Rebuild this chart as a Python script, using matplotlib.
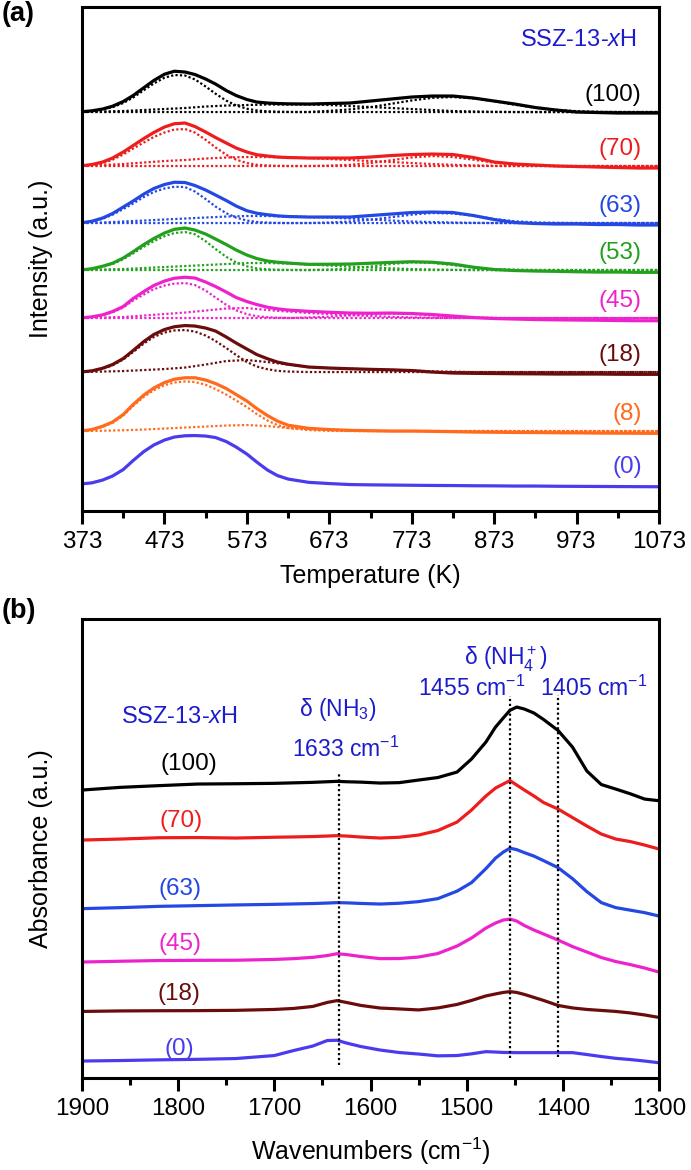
import numpy as np
import matplotlib
matplotlib.use("Agg")
import matplotlib.pyplot as plt
from matplotlib.ticker import MultipleLocator

plt.rcParams['font.family'] = ['Liberation Sans', 'DejaVu Sans']
plt.rcParams['mathtext.fontset'] = 'custom'
plt.rcParams['mathtext.rm'] = 'Liberation Sans'
plt.rcParams['mathtext.it'] = 'Liberation Sans:italic'
plt.rcParams['mathtext.bf'] = 'Liberation Sans:bold'
plt.rcParams['mathtext.default'] = 'regular'

# ---------------- (a) NH3-TPD ----------------
# fine temperature grid (measured curves + low-T peak), coarse grid (broad fitted peaks)
tpd_T = [373, 385, 398, 410, 423, 435, 448, 460, 473, 485, 498, 510, 523, 535, 548, 560, 573,
         585, 598, 610, 623, 648, 673, 698, 723, 748, 773, 798, 823, 848, 873, 898, 923, 948,
         973, 998, 1023, 1048, 1073]
fit_T = [373, 398, 423, 448, 473, 498, 523, 548, 573, 598, 623, 648, 673, 698, 723,
         748, 773, 798, 823, 848, 873, 898, 923, 948, 973, 998, 1023, 1048, 1073]

samples = ['(100)', '(70)', '(63)', '(53)', '(45)', '(18)', '(8)', '(0)']
tpd_offset = [399, 345, 288, 241, 193, 139, 80, 27]

tpd_100 = [0.3, 1.2, 3, 5.8, 10.5, 16.5, 24.3, 31.5, 37.8, 40.8, 40, 37.5, 33, 28, 21.5, 16.5,
           12.5, 10, 9, 8.5, 8.2, 8, 8.5, 9, 11, 13, 15, 16, 16, 14, 11, 8, 4.5, 2, 0, -0.5,
           -1, -1, -1]
tpd_70 = [0.3, 1.5, 4, 8, 14, 20.5, 27.5, 33.5, 39, 42.3, 43, 39.5, 34, 28.5, 23, 18, 14,
          11.3, 10, 9, 8.5, 8, 8, 8, 9, 10.5, 11.5, 12, 11.5, 8.5, 4, 2, 1, 0, -0.5, -1, -1.5,
          -2, -2]
tpd_63 = [0.3, 1.8, 5, 9.5, 16, 22, 29, 34.5, 38.5, 40.8, 40.5, 37.5, 33, 28, 22.5, 17, 12.3,
          9.8, 8.3, 7.2, 6.5, 6, 6, 6, 7.5, 9, 10.5, 11, 10.5, 7.5, 3.5, 0.5, -0.5, -1, -1,
          -1.5, -1.5, -2, -2]
tpd_53 = [0.2, 1.3, 3.8, 6.8, 12, 18.3, 25.5, 31.5, 37, 40.7, 42, 40, 36, 31, 25.5, 20, 15,
          11.5, 9, 7.8, 7, 5.7, 5.8, 6, 6.8, 7.6, 8.3, 7.8, 6, 2.8, 0.5, -0.5, -1, -1.3, -1.7,
          -2, -2, -2.3, -2.3]
tpd_45 = [0.2, 1.2, 3.2, 6.5, 11.5, 19.5, 26.5, 32.5, 37, 39.8, 40.8, 40, 36, 31.5, 26, 20.5,
          16.5, 13.5, 10.8, 9.2, 8, 6.7, 5.8, 5, 4.8, 5, 4.5, 3.5, 2, 0.5, -0.5, -1, -1.5,
          -1.8, -2, -2.2, -2.5, -2.7, -2.7]
tpd_18 = [0.2, 1.2, 3.8, 7.5, 13.5, 21.5, 30.5, 37.5, 42.5, 45.3, 46.5, 46, 44, 41, 35, 29,
          23, 17.5, 13.3, 10, 7.8, 5, 4, 3.3, 2.7, 2.2, 1.5, 0, -1, -1.3, -1.5, -1.7, -1.8,
          -2, -2, -2, -2.2, -2.3, -2.3]
tpd_8 = [0.2, 1.5, 4.8, 9, 16.5, 26.5, 36, 43, 48.5, 51.8, 53.3, 53.3, 51, 47.5, 42.5, 36.5,
         30, 22.5, 15.5, 10, 5.8, 2.7, 1.5, 0.7, 0.3, 0, 0, -0.3, -0.6, -1, -1.2, -1.4, -1.5,
         -1.7, -1.8, -2, -2.1, -2.2, -2.3]
tpd_0 = [0.2, 1.2, 4, 8, 14.5, 23.5, 32.5, 39, 44, 47, 48.3, 48.5, 48, 46.5, 42.5, 37, 30,
         22, 14, 8.5, 5, 1.7, 0.5, -0.5, -0.8, -1, -1.2, -1.4, -1.5, -1.7, -1.8, -2, -2,
         -2.2, -2.3, -2.4, -2.5, -2.6, -2.7]

# deconvoluted peaks: low-T peak on tpd_T, medium / high-T peaks on fit_T
low_100 = [0.2, 0.8, 2.4, 4.8, 9, 14.5, 21.8, 28.5, 34.3, 37, 36.5, 32.6, 25.5, 18.3, 11.4,
           6.6, 3.3, 1.6, 0.7, 0.3, 0.1] + [0] * 18
mid_100 = [0, 0.5, 1, 2, 3, 4, 5.5, 6.5, 7, 7.5, 7.5, 7.5, 7, 6, 5, 4, 3, 2, 1, 0.5, 0.2] + [0] * 8
high_100 = [0] * 12 + [1.2, 2.6, 4.9, 8.2, 11.6, 14.2, 15, 13.7, 10.8, 7.3, 4.3, 2.2, 0.9, 0.3, 0, 0, 0]

low_70 = [0.2, 0.8, 2.8, 6.3, 11.5, 17.5, 23.5, 29, 33.5, 36.5, 37, 33.5, 26.2, 18.6, 11.3,
          6.4, 3, 1.3, 0.5, 0.2, 0] + [0] * 18
mid_70 = [0.5, 1, 2, 3.5, 5, 6, 7.5, 8.5, 9, 9, 8.5, 8, 7, 6, 5, 4, 3, 2, 1.2, 0.6, 0.2] + [0] * 8
high_70 = [0] * 12 + [0.4, 1.2, 3, 5.8, 8.6, 10, 9, 6.3, 3.4, 1.5, 0.5, 0.1, 0, 0, 0, 0, 0]

low_63 = [0.2, 1.4, 4.3, 8.3, 14, 19.5, 26, 31, 34.5, 36.3, 36, 31.5, 24, 16.5, 9.8, 5.4, 2.5,
          1.1, 0.4, 0.1, 0] + [0] * 18
mid_63 = [0, 0.5, 1.5, 2.5, 3.5, 4.5, 5.5, 6.5, 7, 7, 6.5, 6, 5.5, 4.5, 3.5, 2.5, 1.5, 1, 0.5, 0.2] + [0] * 9
high_63 = [0] * 12 + [0.5, 1.5, 3.3, 5.8, 8.4, 10, 9.5, 7.4, 4, 1.8, 0.6, 0.2, 0, 0, 0, 0, 0]

low_53 = [0.2, 1.1, 3.2, 6, 10.8, 16.6, 23.3, 28.8, 33.8, 37, 38, 35.8, 28.8, 21, 13.2, 7.6,
          3.7, 1.7, 0.7, 0.3, 0.1] + [0] * 18
mid_53 = [0, 0.5, 1, 2, 3, 4, 5, 6, 7, 7, 6.5, 5.5, 4.5, 3.5, 2.5, 1.7, 1, 0.5, 0.2] + [0] * 10
high_53 = [0] * 12 + [0.5, 1.5, 3.5, 6, 7.7, 7.2, 4.9, 2.5, 0.9, 0.3, 0, 0, 0, 0, 0, 0, 0]

low_45 = [0.2, 1, 2.7, 5.7, 10.5, 17.5, 23.5, 28.8, 32.5, 34.5, 35, 33, 27.5, 20.5, 13.2, 7.7,
          3.9, 1.8, 0.8, 0.3, 0.1] + [0] * 18
mid_45 = [0, 0.5, 1, 2.5, 4, 5.5, 7.5, 9.5, 10, 8, 6.5, 5, 4, 3, 2, 1.2, 0.6, 0.3] + [0] * 11
high_45 = [0] * 11 + [0.6, 1.4, 2.6, 3.9, 4.5, 4.1, 2.8, 1.5, 0.7, 0.2] + [0] * 8

low_18 = [0.2, 1, 3.3, 6.7, 12.5, 20, 28.5, 35, 39.5, 41.6, 42, 40.5, 36.5, 31, 24, 17, 10,
          5.5, 2.8, 1.2, 0.5] + [0] * 18
mid_18 = [0, 0.5, 1, 2, 3, 4.5, 7.5, 11, 12, 10, 7.5, 5, 4, 3.3, 2.7, 2.2, 1.5, 0.7, 0.3] + [0] * 10

low_8 = [0.2, 1.3, 4.3, 8.2, 15.5, 25, 34.3, 40.8, 45.8, 48.5, 49.6, 49, 46.3, 42, 36.5, 30.5,
         24, 17, 10.5, 6, 3, 1, 0.2] + [0] * 16
mid_8 = [0, 0.3, 0.8, 1.5, 2.5, 3.5, 4.5, 5.5, 6, 5, 3, 1.8, 1, 0.5, 0.2] + [0] * 14

colors = ['#000000', '#ee1d1d', '#2448e4', '#22a01e', '#ee22cc', '#6b0c0c', '#ff6a1c', '#4a3cee']
annot_blue = '#1c1ccc'

tpd_curves = [tpd_100, tpd_70, tpd_63, tpd_53, tpd_45, tpd_18, tpd_8, tpd_0]
tpd_low = [low_100, low_70, low_63, low_53, low_45, low_18, low_8, None]
tpd_broad = [[mid_100, high_100], [mid_70, high_70], [mid_63, high_63], [mid_53, high_53],
             [mid_45, high_45], [mid_18], [mid_8], []]

# ---------------- (b) in situ IR ----------------
ir_w = [1900, 1860, 1820, 1780, 1740, 1700, 1680, 1660, 1645, 1635, 1625, 1610, 1590, 1570,
        1550, 1530, 1510, 1495, 1480, 1470, 1462, 1455, 1448, 1440, 1430, 1420, 1405, 1390,
        1375, 1360, 1345, 1330, 1315, 1300]
ir_samples = ['(100)', '(70)', '(63)', '(45)', '(18)', '(0)']
ir_offset = [288, 238, 169.4, 116, 66.6, 17]

ir_100 = [0, 2.7, 4.4, 6, 6.3, 6.7, 7.2, 7.7, 8.3, 8.7, 8.3, 7.9, 7, 7.4, 10, 12.5, 18,
          31, 48, 63, 72, 79.7, 83, 81, 77, 70.5, 59.6, 43, 19, 5.5, 1, -3.7, -9, -10.7]
ir_70 = [0, 1, 2.3, 2.5, 2, 2.8, 3.1, 3.5, 4, 4.4, 4, 3, 2, 2.8, 5, 9.5, 18,
         30, 44, 52, 56, 59.5, 55, 50, 44, 37.5, 31, 22.5, 14, 6, 1, -1.5, -5, -9]
ir_63 = [0, 1, 2.3, 3, 3.7, 4.3, 4.7, 5.1, 5.6, 6, 5.8, 5.2, 4.6, 5.4, 7, 10, 17.5,
         26, 40, 50.5, 56.5, 60.5, 59, 56, 52.5, 48, 41, 30, 17, 6, 1, -1.5, -4, -7.4]
ir_45 = [0, 0.8, 1.5, 1.7, 1.8, 2.6, 3.4, 4.7, 6.5, 8.3, 7.5, 5.5, 3.4, 3.5, 5, 8.5, 16,
         24, 34, 39, 42, 43, 41, 36.5, 32, 28, 22, 15.5, 10, 4.5, 0.5, -2.5, -6, -10]
ir_18 = [0, 0.5, 0.7, 0.8, 1.1, 2, 3, 5, 9, 10.8, 9, 6, 3.4, 2.5, 1.5, 3.5, 7,
         11, 15.5, 17.5, 19, 19.8, 19, 17, 14, 11, 6, 3.5, 2, 1, 0, -1.5, -3.5, -6]
ir_0 = [0, 0.5, 1.2, 1.7, 2.5, 5.5, 10.5, 15, 20.5, 20.8, 18, 14.5, 11, 8.5, 7, 5.2, 5.5,
        7.2, 9.4, 9, 8.6, 8.5, 8.4, 8.4, 8.4, 8.4, 8.4, 8.4, 6.5, 4.5, 2.7, 1.5, 0, -1.7]
ir_curves = [ir_100, ir_70, ir_63, ir_45, ir_18, ir_0]
ir_colors = [colors[0], colors[1], colors[2], colors[4], colors[5], colors[7]]

band_pos = [1633, 1455, 1405]
band_ymin = [13, 19.6, 21]
band_ymax = [306.5, 382, 383]

# ---------------- figure ----------------
fig = plt.figure(figsize=(6.91, 11.7), dpi=100)
ax1 = fig.add_axes([0.1187, 0.5632, 0.8350, 0.4308])
ax2 = fig.add_axes([0.1187, 0.0786, 0.8350, 0.3923])

for ax in (ax1, ax2):
    for sp in ax.spines.values():
        sp.set_linewidth(2.2)
    ax.set_yticks([])
    ax.tick_params(axis='x', which='major', direction='out', length=9.5, width=2.2,
                   labelsize=17.5, pad=5, top=False)
    ax.tick_params(axis='x', which='minor', direction='out', length=5, width=2.2, top=False)

dots = (0, (1, 1))

# (a)
T = np.array(tpd_T)
TF = np.array(fit_T)
for i, name in enumerate(samples):
    off = tpd_offset[i]
    c = colors[i]
    if tpd_low[i] is not None:
        ax1.plot(T, np.array(tpd_low[i]) + off, color=c, lw=1.6, ls=dots)
    for p in tpd_broad[i]:
        ax1.plot(TF, np.array(p) + off, color=c, lw=1.6, ls=dots)
    ax1.plot(T, np.array(tpd_curves[i]) + off, color=c, lw=2.3,
             solid_joinstyle='round', solid_capstyle='round')
    ax1.text(1052, off + 17, name, color=c, fontsize=17.5, ha='right', va='center')

ax1.text(1046, 471, r'SSZ-13-$\mathit{x}$H', color=annot_blue, fontsize=17,
         ha='right', va='center')
ax1.set_xlim(373, 1073)
ax1.set_ylim(0, 504)
ax1.set_xticks(np.arange(373, 1074, 100))
ax1.set_xticks(np.arange(423, 1074, 100), minor=True)
ax1.set_xlabel('Temperature (K)', fontsize=18)
ax1.set_ylabel('Intensity (a.u.)', fontsize=18)
ax1.xaxis.set_label_coords(0.5, -0.105)
ax1.yaxis.set_label_coords(-0.05, 0.5)

# (b)
W = np.array(ir_w)
for i, name in enumerate(ir_samples):
    off = ir_offset[i]
    ax2.plot(W, np.array(ir_curves[i]) + off, color=ir_colors[i], lw=2.3,
             solid_joinstyle='round', solid_capstyle='round')
ax2.vlines(band_pos, band_ymin, band_ymax, colors='black', lw=1.6, linestyles=(0, (1, 1.2)))

label_dy = [26, 19, 20, 18.5, 17.5, 12]
label_x = [1789, 1797, 1798, 1798, 1799, 1799]
for i, name in enumerate(ir_samples):
    ax2.text(label_x[i], ir_offset[i] + label_dy[i], name, color=ir_colors[i], fontsize=17.5,
             ha='center', va='center')

ax2.text(1859, 361, r'SSZ-13-$\mathit{x}$H', color=annot_blue, fontsize=17, ha='left', va='center')
ax2.text(1634, 369, r'δ (NH$_3$)', color=annot_blue, fontsize=16.5, ha='center', va='center')
ax2.text(1626, 329, r'1633 cm$^{-1}$', color=annot_blue, fontsize=16.5, ha='center', va='center')
ax2.text(1459, 419, r'δ (NH$_4^+$)', color=annot_blue, fontsize=16.5, ha='center', va='center')
ax2.text(1495, 390, r'1455 cm$^{-1}$', color=annot_blue, fontsize=16.5, ha='center', va='center')
ax2.text(1368, 390, r'1405 cm$^{-1}$', color=annot_blue, fontsize=16.5, ha='center', va='center')

ax2.set_xlim(1900, 1300)
ax2.set_ylim(0, 459)
ax2.xaxis.set_major_locator(MultipleLocator(100))
ax2.xaxis.set_minor_locator(MultipleLocator(50))
ax2.set_xlabel(r'Wavenumbers (cm$^{-1}$)', fontsize=18)
ax2.set_ylabel('Absorbance (a.u.)', fontsize=18)
ax2.xaxis.set_label_coords(0.5, -0.125)
ax2.yaxis.set_label_coords(-0.05, 0.5)

fig.text(0.003, 0.999, '(a)', fontsize=19.5, fontweight='bold', ha='left', va='top')
fig.text(0.003, 0.489, '(b)', fontsize=19.5, fontweight='bold', ha='left', va='top')

fig.savefig('out.png', dpi=100)
